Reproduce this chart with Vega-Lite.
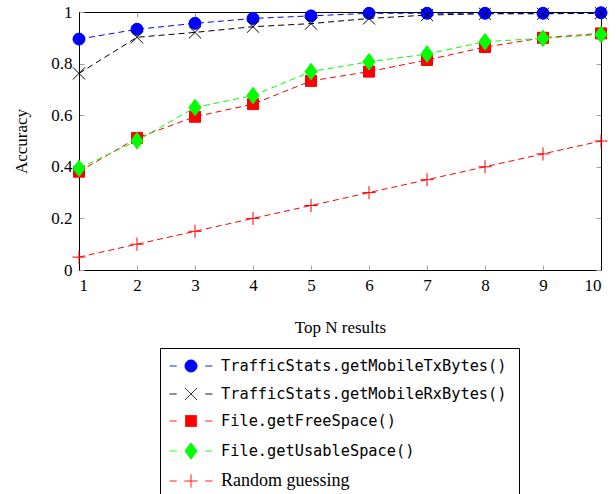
{
  "$schema": "https://vega.github.io/schema/vega-lite/v6.json",
  "width": 522,
  "height": 258,
  "autosize": {"type": "none"},
  "padding": {"left": 79, "top": 12, "right": 15, "bottom": 224},
  "background": "white",
  "config": {
    "view": {"stroke": "black", "strokeWidth": 1},
    "font": "Liberation Serif",
    "axis": {
      "grid": false,
      "domainColor": "black",
      "domainWidth": 1,
      "tickColor": "#a0a0a0",
      "tickWidth": 1,
      "labelFont": "Liberation Serif",
      "labelFontSize": 17,
      "labelColor": "black",
      "titleFont": "Liberation Serif",
      "titleFontSize": 17,
      "titleFontWeight": "normal",
      "titleColor": "black"
    },
    "legend": {
      "orient": "none",
      "legendX": 81,
      "legendY": 336,
      "direction": "vertical",
      "strokeColor": "black",
      "fillColor": "white",
      "padding": 12,
      "rowPadding": 10,
      "labelFont": "DejaVu Sans Mono",
      "labelFontSize": 15.3,
      "labelColor": "black",
      "labelLimit": 400,
      "symbolOffset": 13,
      "labelOffset": 24,
      "symbolSize": 121,
      "symbolStrokeWidth": 1
    }
  },
  "data": {
    "values": [
      {"n": 1, "acc": 0.895, "series": "TrafficStats.getMobileTxBytes()"},
      {"n": 2, "acc": 0.933, "series": "TrafficStats.getMobileTxBytes()"},
      {"n": 3, "acc": 0.956, "series": "TrafficStats.getMobileTxBytes()"},
      {"n": 4, "acc": 0.975, "series": "TrafficStats.getMobileTxBytes()"},
      {"n": 5, "acc": 0.985, "series": "TrafficStats.getMobileTxBytes()"},
      {"n": 6, "acc": 0.995, "series": "TrafficStats.getMobileTxBytes()"},
      {"n": 7, "acc": 0.995, "series": "TrafficStats.getMobileTxBytes()"},
      {"n": 8, "acc": 0.995, "series": "TrafficStats.getMobileTxBytes()"},
      {"n": 9, "acc": 0.995, "series": "TrafficStats.getMobileTxBytes()"},
      {"n": 10, "acc": 0.997, "series": "TrafficStats.getMobileTxBytes()"},
      {"n": 1, "acc": 0.762, "series": "TrafficStats.getMobileRxBytes()"},
      {"n": 2, "acc": 0.902, "series": "TrafficStats.getMobileRxBytes()"},
      {"n": 3, "acc": 0.921, "series": "TrafficStats.getMobileRxBytes()"},
      {"n": 4, "acc": 0.943, "series": "TrafficStats.getMobileRxBytes()"},
      {"n": 5, "acc": 0.955, "series": "TrafficStats.getMobileRxBytes()"},
      {"n": 6, "acc": 0.975, "series": "TrafficStats.getMobileRxBytes()"},
      {"n": 7, "acc": 0.988, "series": "TrafficStats.getMobileRxBytes()"},
      {"n": 8, "acc": 0.993, "series": "TrafficStats.getMobileRxBytes()"},
      {"n": 9, "acc": 0.993, "series": "TrafficStats.getMobileRxBytes()"},
      {"n": 10, "acc": 0.995, "series": "TrafficStats.getMobileRxBytes()"},
      {"n": 1, "acc": 0.381, "series": "File.getFreeSpace()"},
      {"n": 2, "acc": 0.512, "series": "File.getFreeSpace()"},
      {"n": 3, "acc": 0.594, "series": "File.getFreeSpace()"},
      {"n": 4, "acc": 0.643, "series": "File.getFreeSpace()"},
      {"n": 5, "acc": 0.733, "series": "File.getFreeSpace()"},
      {"n": 6, "acc": 0.769, "series": "File.getFreeSpace()"},
      {"n": 7, "acc": 0.814, "series": "File.getFreeSpace()"},
      {"n": 8, "acc": 0.864, "series": "File.getFreeSpace()"},
      {"n": 9, "acc": 0.9, "series": "File.getFreeSpace()"},
      {"n": 10, "acc": 0.917, "series": "File.getFreeSpace()"},
      {"n": 1, "acc": 0.394, "series": "File.getUsableSpace()"},
      {"n": 2, "acc": 0.501, "series": "File.getUsableSpace()"},
      {"n": 3, "acc": 0.63, "series": "File.getUsableSpace()"},
      {"n": 4, "acc": 0.676, "series": "File.getUsableSpace()"},
      {"n": 5, "acc": 0.769, "series": "File.getUsableSpace()"},
      {"n": 6, "acc": 0.807, "series": "File.getUsableSpace()"},
      {"n": 7, "acc": 0.837, "series": "File.getUsableSpace()"},
      {"n": 8, "acc": 0.885, "series": "File.getUsableSpace()"},
      {"n": 9, "acc": 0.898, "series": "File.getUsableSpace()"},
      {"n": 10, "acc": 0.913, "series": "File.getUsableSpace()"},
      {"n": 1, "acc": 0.05, "series": "Random guessing"},
      {"n": 2, "acc": 0.1, "series": "Random guessing"},
      {"n": 3, "acc": 0.15, "series": "Random guessing"},
      {"n": 4, "acc": 0.2, "series": "Random guessing"},
      {"n": 5, "acc": 0.25, "series": "Random guessing"},
      {"n": 6, "acc": 0.3, "series": "Random guessing"},
      {"n": 7, "acc": 0.35, "series": "Random guessing"},
      {"n": 8, "acc": 0.4, "series": "Random guessing"},
      {"n": 9, "acc": 0.45, "series": "Random guessing"},
      {"n": 10, "acc": 0.5, "series": "Random guessing"}
    ]
  },
  "layer": [
    {
      "mark": {"type": "line", "strokeWidth": 1, "strokeDash": [6, 4], "clip": false},
      "encoding": {
        "x": {
          "field": "n", "type": "quantitative",
          "scale": {"domain": [1, 10], "nice": false, "zero": false},
          "axis": {"orient": "bottom", "title": "Top N results", "values": [1,2,3,4,5,6,7,8,9,10], "format": "d", "tickSize": -5, "labelPadding": 12, "titlePadding": 26}
        },
        "y": {
          "field": "acc", "type": "quantitative",
          "scale": {"domain": [0, 1], "nice": false},
          "axis": {"orient": "left", "title": "Accuracy", "values": [0, 0.2, 0.4, 0.6, 0.8, 1], "format": "~g", "tickSize": -5, "labelPadding": 12, "titlePadding": 20}
        },
        "stroke": {
          "field": "series", "type": "nominal",
          "scale": {
            "domain": ["TrafficStats.getMobileTxBytes()", "TrafficStats.getMobileRxBytes()", "File.getFreeSpace()", "File.getUsableSpace()", "Random guessing"],
            "range": ["#0000ff", "#000000", "#ff0000", "#00ff00", "#ff0000"]
          },
          "legend": {
            "title": null,
            "encode": {
              "labels": {
                "update": {
                  "font": [{"test": "datum.label === 'Random guessing'", "value": "Liberation Serif"}, {"value": "DejaVu Sans Mono"}],
                  "fontSize": [{"test": "datum.label === 'Random guessing'", "value": 18}, {"value": 15.3}]
                }
              },
              "symbols": {
                "update": {
                  "strokeDash": {"value": [1, 0]},
                  "strokeWidth": {"value": 1},
                  "size": {"value": 121},
                  "fill": [
                    {"test": "datum.value === 'TrafficStats.getMobileTxBytes()'", "value": "#0000ff"},
                    {"test": "datum.value === 'TrafficStats.getMobileRxBytes()'", "value": "#000000"},
                    {"test": "datum.value === 'File.getUsableSpace()'", "value": "#00ff00"},
                    {"value": "#ff0000"}
                  ],
                  "shape": [
                    {"test": "datum.value === 'TrafficStats.getMobileTxBytes()'", "value": "M-3.9,0H-2.6M2.6,0H3.9M1.09,0A1.09,1.09 0 1 1 -1.09,0A1.09,1.09 0 1 1 1.09,0Z"},
                    {"test": "datum.value === 'TrafficStats.getMobileRxBytes()'", "value": "M-3.9,0H-2.6M2.6,0H3.9M-1.1,-1.1L1.1,1.1M-1.1,1.1L1.1,-1.1"},
                    {"test": "datum.value === 'File.getFreeSpace()'", "value": "M-3.9,0H-2.6M2.6,0H3.9M-1,-1H1V1H-1Z"},
                    {"test": "datum.value === 'File.getUsableSpace()'", "value": "M-3.9,0H-2.6M2.6,0H3.9M0,-1.5L1.1,0L0,1.5L-1.1,0Z"},
                    {"value": "M-3.9,0H-2.6M2.6,0H3.9M-1.2,0H1.2M0,-1.2V1.2"}
                  ]
                }
              }
            }
          }
        },
        "detail": {"field": "series"}
      }
    },
    {
      "transform": [{"filter": "datum.series === 'TrafficStats.getMobileTxBytes()'"}],
      "mark": {"type": "point", "filled": true, "opacity": 1, "size": 121, "strokeWidth": 1, "fill": "#0000ff", "stroke": "#0000ff", "shape": "M1.09,0A1.09,1.09 0 1 1 -1.09,0A1.09,1.09 0 1 1 1.09,0Z", "clip": false},
      "encoding": {
        "x": {
          "field": "n", "type": "quantitative",
          "axis": {"orient": "top", "title": null, "labels": false, "values": [1,2,3,4,5,6,7,8,9,10], "tickSize": -5, "domain": true}
        },
        "y": {
          "field": "acc", "type": "quantitative",
          "axis": {"orient": "right", "title": null, "labels": false, "values": [0, 0.2, 0.4, 0.6, 0.8, 1], "tickSize": -5, "domain": true}
        }
      }
    },
    {
      "transform": [{"filter": "datum.series === 'TrafficStats.getMobileRxBytes()'"}],
      "mark": {"type": "point", "filled": false, "opacity": 1, "size": 121, "strokeWidth": 1, "stroke": "#000000", "shape": "M-1.1,-1.1L1.1,1.1M-1.1,1.1L1.1,-1.1", "clip": false},
      "encoding": {
        "x": {"field": "n", "type": "quantitative", "axis": null},
        "y": {"field": "acc", "type": "quantitative", "axis": null}
      }
    },
    {
      "transform": [{"filter": "datum.series === 'File.getFreeSpace()'"}],
      "mark": {"type": "point", "filled": true, "opacity": 1, "size": 121, "strokeWidth": 1, "fill": "#ff0000", "stroke": "#ff0000", "shape": "M-1,-1H1V1H-1Z", "clip": false},
      "encoding": {
        "x": {"field": "n", "type": "quantitative", "axis": null},
        "y": {"field": "acc", "type": "quantitative", "axis": null}
      }
    },
    {
      "transform": [{"filter": "datum.series === 'File.getUsableSpace()'"}],
      "mark": {"type": "point", "filled": true, "opacity": 1, "size": 121, "strokeWidth": 1, "fill": "#00ff00", "stroke": "#00ff00", "shape": "M0,-1.5L1.1,0L0,1.5L-1.1,0Z", "clip": false},
      "encoding": {
        "x": {"field": "n", "type": "quantitative", "axis": null},
        "y": {"field": "acc", "type": "quantitative", "axis": null}
      }
    },
    {
      "transform": [{"filter": "datum.series === 'Random guessing'"}],
      "mark": {"type": "point", "filled": false, "opacity": 1, "size": 121, "strokeWidth": 1, "stroke": "#ff0000", "shape": "M-1.2,0H1.2M0,-1.2V1.2", "clip": false},
      "encoding": {
        "x": {"field": "n", "type": "quantitative", "axis": null},
        "y": {"field": "acc", "type": "quantitative", "axis": null}
      }
    }
  ]
}
